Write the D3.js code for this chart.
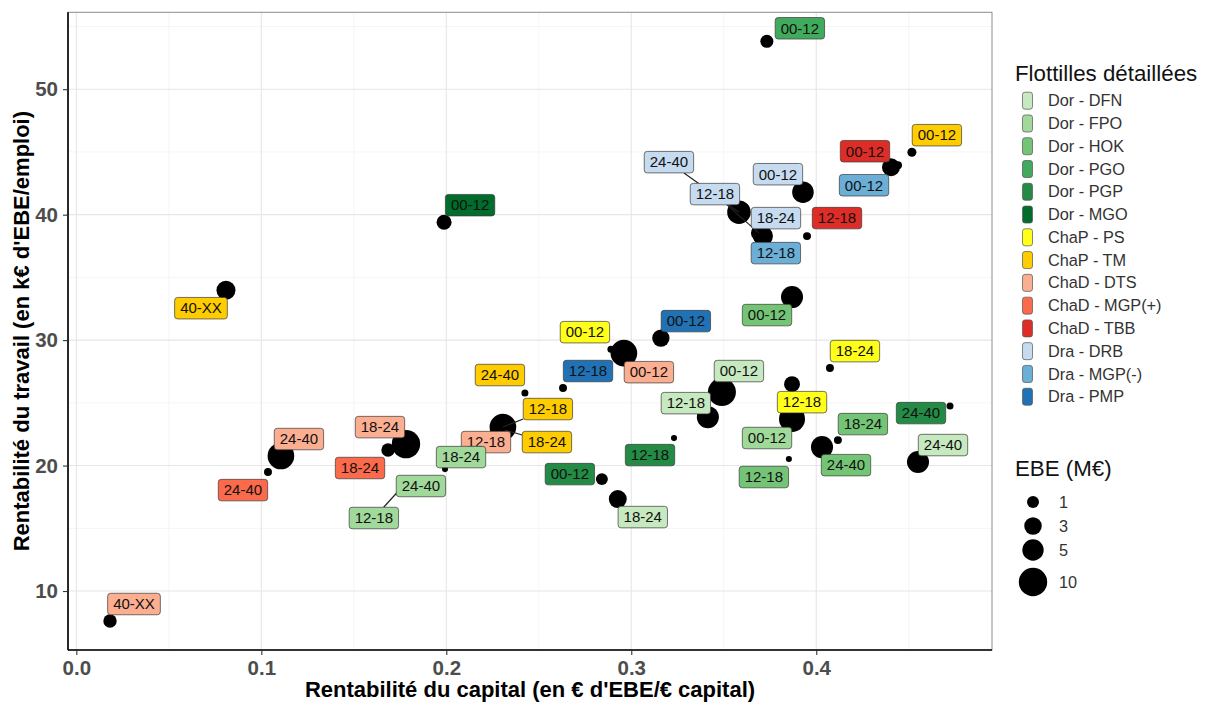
<!DOCTYPE html>
<html><head><meta charset="utf-8">
<script src="https://cdn.jsdelivr.net/npm/d3@7"></script>
<style>body{margin:0;background:#fff} svg{display:block;font-family:"Liberation Sans",Arial,sans-serif}</style>
</head><body><svg id="chart" width="1206" height="704"></svg>
<script>
// ---------- data ----------
const fleets = ["Dor - DFN","Dor - FPO","Dor - HOK","Dor - PGO","Dor - PGP","Dor - MGO",
  "ChaP - PS","ChaP - TM","ChaD - DTS","ChaD - MGP(+)","ChaD - TBB","Dra - DRB","Dra - MGP(-)","Dra - PMP"];
const fleetColors = ["#c7e9c0","#a1d99b","#74c476","#41ab5d","#238b45","#006d2c",
  "#ffff1a","#ffcc00","#fcae91","#fb6a4a","#de2d26","#c6dbef","#6baed6","#2171b5"];
const sizeBreaks = [1,3,5,10];
const xTicks = [0,0.1,0.2,0.3,0.4];
const yTicks = [10,20,30,40,50];
const xMinor = [0.05,0.15,0.25,0.35,0.45];
const yMinor = [15,25,35,45,55];

const pointFleet = ["ChaD - DTS","ChaP - TM","Dor - MGO","Dor - PGO","ChaP - TM","ChaD - TBB","Dra - MGP(-)",
  "Dra - DRB","Dra - DRB","Dra - DRB","Dra - DRB","Dra - MGP(-)","ChaD - TBB","Dor - HOK",
  "ChaP - PS","ChaP - PS","Dor - FPO","Dor - DFN","Dor - DFN","Dor - HOK","Dor - HOK","Dor - HOK",
  "Dor - PGP","Dor - DFN","Dor - PGP","Dor - PGP","Dor - DFN","ChaD - DTS","ChaP - PS","Dra - PMP",
  "Dra - PMP","ChaP - TM","ChaP - TM","ChaP - TM","ChaD - DTS","Dor - FPO","Dor - FPO","Dor - FPO",
  "ChaD - DTS","ChaD - MGP(+)","ChaD - DTS","ChaD - MGP(+)"];
const pointLabel = ["40-XX","40-XX","00-12","00-12","00-12","00-12","00-12",
  "00-12","24-40","12-18","18-24","12-18","12-18","00-12",
  "18-24","12-18","00-12","00-12","12-18","12-18","24-40","18-24",
  "24-40","24-40","12-18","00-12","18-24","00-12","00-12","00-12",
  "12-18","24-40","12-18","18-24","12-18","18-24","12-18","24-40",
  "24-40","24-40","18-24","18-24"];
const pointCapital = [0.0182,0.0809,0.1988,0.3733,0.4517,0.4404,0.4442,
  0.3928,0.3582,0.3690,0.3712,0.3706,0.3950,0.3869,
  0.4074,0.3869,0.3869,0.3490,0.3414,0.3852,0.4031,0.4117,
  0.4723,0.4550,0.3231,0.2841,0.2927,0.2960,0.2890,0.3160,
  0.2631,0.2425,0.2306,0.2317,0.2274,0.1993,0.1776,0.1879,
  0.1106,0.1036,0.1782,0.1685];
const pointTravail = [7.61,33.98,39.40,53.82,44.98,43.78,43.94,
  41.79,40.20,38.53,38.29,38.21,38.29,33.43,
  27.77,26.49,23.71,25.86,23.86,20.52,21.47,22.03,
  24.74,20.28,22.19,18.92,17.33,28.96,29.28,30.16,
  26.18,25.78,23.07,22.83,22.59,19.72,18.53,18.69,
  20.76,19.48,21.71,21.24];
const pointEBE = [1.4,3.7,1.95,1.3,0.37,3.2,0.22,
  5.1,6.3,2.3,4.2,2.3,0.22,5.4,
  0.22,2.3,8.1,9.7,5.4,0.05,5.4,0.22,
  0.12,5.4,0.05,1.0,3.2,8.6,0.12,2.9,
  0.22,0.12,8.6,3.2,1.6,0.05,0.05,0.05,
  8.6,0.22,10.0,1.4];
// label placement (px from point, as resolved by the label repel)
const labelOffset = [[24,-17],[-25,18],[26,-17],[33,-13],[25,-17],[-26,-16],[-34,20],
  [-25,-18],[-70,-50],[-44,-39],[13,-18],[14,16],[30,-18],[-25,18],
  [25,-17],[10,18],[-25,19],[17,-21],[-22,-14],[-25,18],[24,18],[25,-16],
  [-29,7],[25,-17],[-24,17],[-32,-5],[25,18],[25,19],[-26,-17],[25,-17],
  [25,-17],[-25,-18],[45,-18],[42,12],[-11,9],[16,-12],[-31,34],[-3,4],
  [18,-17],[-25,18],[-26,-17],[-28,18]];

// ---------- layout ----------
const svg = d3.select("#chart");
const P = {left:68, right:992, top:12.3, bottom:650};

function expand(ext){const r=ext[1]-ext[0];return [ext[0]-0.05*r, ext[1]+0.05*r];}
const x = d3.scaleLinear().domain(expand(d3.extent(pointCapital))).range([P.left,P.right]);
const y = d3.scaleLinear().domain(expand(d3.extent(pointTravail))).range([P.bottom,P.top]);
const r = d3.scaleSqrt().domain([0,10]).range([2.2,14.2]);
const color = d3.scaleOrdinal().domain(fleets).range(fleetColors);

// grid
const g = svg.append("g");
g.selectAll(".xmin").data(xMinor.filter(v=>x(v)<P.right)).join("line")
  .attr("x1",d=>x(d)).attr("x2",d=>x(d)).attr("y1",P.top).attr("y2",P.bottom)
  .attr("stroke","#f2f2f2").attr("stroke-width",0.8);
g.selectAll(".ymin").data(yMinor.filter(v=>y(v)>P.top)).join("line")
  .attr("y1",d=>y(d)).attr("y2",d=>y(d)).attr("x1",P.left).attr("x2",P.right)
  .attr("stroke","#f2f2f2").attr("stroke-width",0.8);
g.selectAll(".xmaj").data(xTicks).join("line")
  .attr("x1",d=>x(d)).attr("x2",d=>x(d)).attr("y1",P.top).attr("y2",P.bottom)
  .attr("stroke","#e6e6e6").attr("stroke-width",1.1);
g.selectAll(".ymaj").data(yTicks).join("line")
  .attr("y1",d=>y(d)).attr("y2",d=>y(d)).attr("x1",P.left).attr("x2",P.right)
  .attr("stroke","#e6e6e6").attr("stroke-width",1.1);

// panel border
svg.append("rect").attr("x",P.left).attr("y",P.top).attr("width",P.right-P.left).attr("height",P.bottom-P.top)
  .attr("fill","none").attr("stroke","#8c8c8c").attr("stroke-width",1);

// axes
const xAxis = d3.axisBottom(x).tickValues(xTicks).tickFormat(d3.format(".1f")).tickSize(5).tickPadding(5);
const yAxis = d3.axisLeft(y).tickValues(yTicks).tickFormat(d3.format("d")).tickSize(5).tickPadding(5);
const gx = svg.append("g").attr("transform",`translate(0,${P.bottom})`).call(xAxis);
const gy = svg.append("g").attr("transform",`translate(${P.left},0)`).call(yAxis);
[gx,gy].forEach(a=>{
  a.select(".domain").attr("stroke","#000").attr("stroke-width",1.6);
  a.selectAll(".tick line").attr("stroke","#333").attr("stroke-width",1.1);
  a.selectAll(".tick text").attr("fill","#4d4d4d").attr("font-weight","bold").attr("font-size",20.5)
   .attr("font-family","Liberation Sans, Arial, sans-serif");
});
gx.select(".domain").attr("d",`M${P.left},0H${P.right}`);
gy.select(".domain").attr("d",`M0,${P.bottom}V${P.top}`);

// axis titles
svg.append("text").attr("x",(P.left+P.right)/2).attr("y",697).attr("text-anchor","middle")
  .attr("font-weight","bold").attr("font-size",22).attr("fill","#000")
  .text("Rentabilité du capital (en € d'EBE/€ capital)");
svg.append("text").attr("transform",`translate(29,${(P.top+P.bottom)/2}) rotate(-90)`).attr("text-anchor","middle")
  .attr("font-weight","bold").attr("font-size",22).attr("fill","#000")
  .text("Rentabilité du travail (en k€ d'EBE/emploi)");

// points
const idx = d3.range(pointCapital.length);
svg.append("g").selectAll("circle").data(idx).join("circle")
  .attr("cx",i=>x(pointCapital[i])).attr("cy",i=>y(pointTravail[i]))
  .attr("r",i=>r(pointEBE[i])).attr("fill","#000");

// labels
const LH = 21.5, PADX = 5.5, FS = 15;
const lg = svg.append("g");
const meas = svg.append("text").attr("font-size",FS).attr("visibility","hidden");
function tw(s){meas.text(s);return meas.node().getComputedTextLength();}
const boxes = idx.map(i=>{
  const px=x(pointCapital[i]), py=y(pointTravail[i]);
  const w=tw(pointLabel[i])+2*PADX;
  const cx=px+labelOffset[i][0], cy=py+labelOffset[i][1];
  return {i,px,py,w,cx,cy};
});
// segments
boxes.forEach(b=>{
  const hw=b.w/2, hh=LH/2;
  const qx=Math.max(b.cx-hw,Math.min(b.px,b.cx+hw)), qy=Math.max(b.cy-hh,Math.min(b.py,b.cy+hh));
  const dist=Math.hypot(b.px-qx,b.py-qy);
  if(dist>15){
    const dx=b.px-b.cx, dy=b.py-b.cy;
    const t=Math.min(hw/Math.abs(dx||1e-9), hh/Math.abs(dy||1e-9));
    lg.append("line").attr("x1",b.cx+dx*t).attr("y1",b.cy+dy*t).attr("x2",b.px).attr("y2",b.py)
      .attr("stroke","#222").attr("stroke-width",1.2);
  }
});
boxes.forEach(b=>{
  const i=b.i;
  lg.append("rect").attr("x",b.cx-b.w/2).attr("y",b.cy-LH/2).attr("width",b.w).attr("height",LH)
    .attr("rx",3).attr("fill",color(pointFleet[i])).attr("stroke","#3a3a3a").attr("stroke-width",0.7);
  lg.append("text").attr("x",b.cx).attr("y",b.cy+5.3).attr("text-anchor","middle")
    .attr("font-size",FS).attr("fill","#111").text(pointLabel[i]);
});
meas.remove();

// legend: fleets
const L = svg.append("g");
L.append("text").attr("x",1015).attr("y",81).attr("font-size",22.3).attr("fill","#111").text("Flottilles détaillées");
fleets.forEach((f,k)=>{
  const cy=100.7+k*22.77;
  L.append("rect").attr("x",1022.5).attr("y",cy-8.5).attr("width",10).attr("height",17).attr("rx",2.5)
    .attr("fill",color(f)).attr("stroke","#555").attr("stroke-width",0.7);
  L.append("text").attr("x",1048).attr("y",cy+5.6).attr("font-size",16.3).attr("fill","#333").text(f);
});
// legend: sizes
L.append("text").attr("x",1015).attr("y",476).attr("font-size",22.3).attr("fill","#111").text("EBE (M€)");
const sizeY=[502,526,550,582];
sizeBreaks.forEach((s,k)=>{
  L.append("circle").attr("cx",1033).attr("cy",sizeY[k]).attr("r",r(s)).attr("fill","#000");
  L.append("text").attr("x",1059).attr("y",sizeY[k]+5.6).attr("font-size",16.3).attr("fill","#333").text(s);
});
</script></body></html>
